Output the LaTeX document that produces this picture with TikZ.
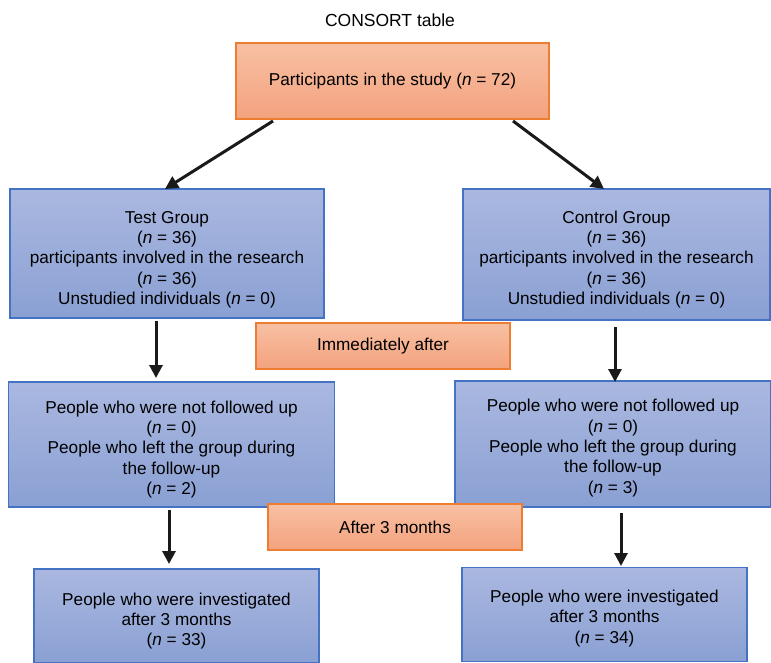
\documentclass[tikz,border=0pt]{standalone}
\usepackage{fontspec}
\setmainfont{Liberation Sans}
\usetikzlibrary{arrows.meta}
\definecolor{orTop}{HTML}{F7C0A3}
\definecolor{orBot}{HTML}{F4A27E}
\definecolor{orLine}{HTML}{ED7D31}
\definecolor{blTop}{HTML}{AAB8E0}
\definecolor{blBot}{HTML}{8AA0D3}
\definecolor{blLine}{HTML}{4472C4}
\definecolor{arr}{HTML}{1A1A1A}
\tikzset{
  obox/.style={draw=orLine, line width=1.2pt, top color=orTop, bottom color=orBot, inner sep=0pt, align=center},
  bbox/.style={draw=blLine, line width=1.2pt, top color=blTop, bottom color=blBot, inner sep=0pt, align=center},
  btext/.style={align=center, inner sep=0pt},
  conn/.style={draw=arr, line width=3pt, -{Triangle[width=13pt,length=13pt]}},
}
\newcommand{\ital}[1]{\textit{#1}}
\begin{document}
\begin{tikzpicture}[x=1pt,y=-1pt,font=\fontsize{17.2}{20.3}\selectfont]
\useasboundingbox (0,0) rectangle (771,663);
\node (title) at (390,20) {\fontsize{17.5}{20}\selectfont CONSORT table};
\node[obox, minimum width=313pt, minimum height=76pt] (top) at (392.5,81) {Participants in the study (\ital{n} = 72)};
\node[bbox, minimum width=314pt, minimum height=129pt] (test) at (167,253.5) {};
\node[btext] (testtxt) at ([yshift=-6pt]test.center) {Test Group\\(\ital{n} = 36)\\participants involved in the research\\(\ital{n} = 36)\\Unstudied individuals (\ital{n} = 0)};
\node[bbox, minimum width=307pt, minimum height=131pt] (ctrl) at (616.5,254.5) {};
\node[btext] (ctrltxt) at ([yshift=-5pt]ctrl.center) {Control Group\\(\ital{n} = 36)\\participants involved in the research\\(\ital{n} = 36)\\Unstudied individuals (\ital{n} = 0)};
\node[bbox, minimum width=326pt, minimum height=125pt] (lmid) at (171.5,444.5) {};
\node[btext] (lmidtxt) at ([yshift=-5pt]lmid.center) {People who were not followed up\\(\ital{n} = 0)\\People who left the group during\\the follow-up\\(\ital{n} = 2)};
\node[bbox, minimum width=316pt, minimum height=126pt] (rmid) at (613,444) {};
\node[btext] (rmidtxt) at ([yshift=-4pt]rmid.center) {People who were not followed up\\(\ital{n} = 0)\\People who left the group during\\the follow-up\\(\ital{n} = 3)};
\node[obox, minimum width=254pt, minimum height=46pt] (imm) at (383,346) {Immediately after};
\node[obox, minimum width=254pt, minimum height=46pt] (after) at (395,527) {After 3 months};
\node[bbox, minimum width=285pt, minimum height=94pt] (lbot) at (176.5,616) {};
\node[btext] (lbottxt) at ([yshift=-5pt]lbot.center) {People who were investigated\\after 3 months\\(\ital{n} = 33)};
\node[bbox, minimum width=285pt, minimum height=94pt] (rbot) at (604.5,614.5) {};
\node[btext] (rbottxt) at ([yshift=-4pt]rbot.center) {People who were investigated\\after 3 months\\(\ital{n} = 34)};
% connector end points
\coordinate (a1) at (273,121); \coordinate (a1e) at (165,189);
\coordinate (a2) at (513,121); \coordinate (a2e) at (604,189);
\coordinate (b1) at (156,321); \coordinate (b1e) at (156,378);
\coordinate (b2) at (615,327); \coordinate (b2e) at (615,382);
\coordinate (c1) at (169,510); \coordinate (c1e) at (169,564);
\coordinate (c2) at (621,513); \coordinate (c2e) at (621,566);
\draw[conn] (a1) -- (a1e);
\draw[conn] (a2) -- (a2e);
\draw[conn] (b1) -- (b1e);
\draw[conn] (b2) -- (b2e);
\draw[conn] (c1) -- (c1e);
\draw[conn] (c2) -- (c2e);
\end{tikzpicture}
\end{document}
